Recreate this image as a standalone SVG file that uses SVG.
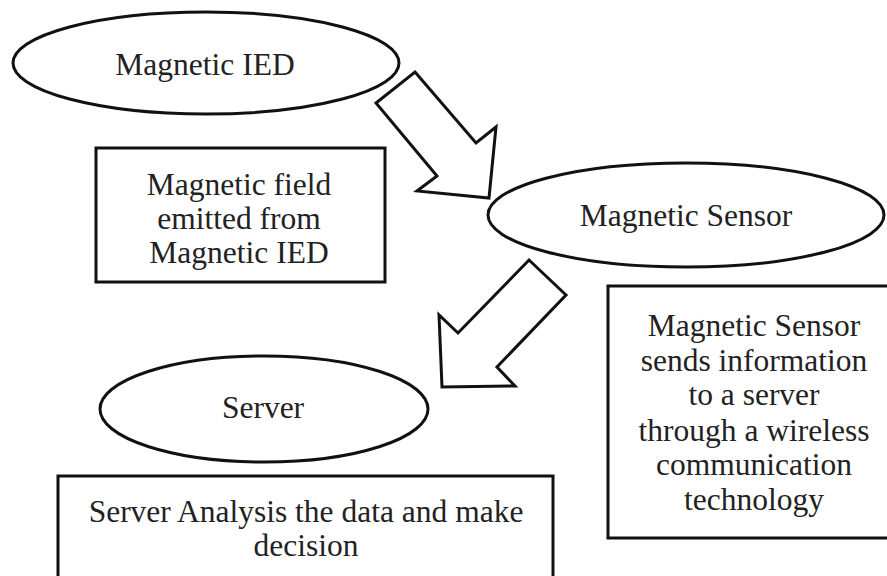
<svg xmlns="http://www.w3.org/2000/svg" width="887" height="576" viewBox="0 0 887 576">
  <style>
    .shape { fill: #ffffff; stroke: #111111; stroke-width: 3; }
    .arrow { fill: #ffffff; stroke: #111111; stroke-width: 3; stroke-linejoin: miter; }
    .label { font-family: 'Liberation Serif', 'DejaVu Serif', serif; font-size: 31.5px; fill: #222222; text-anchor: middle; }
  </style>
  <rect width="887" height="576" fill="#ffffff"/>

  <!-- Block arrows linking the stages -->
  <g id="connectors">
    <polygon class="arrow" points="415,72 476,143 496,127 489,198 417,191 437,176 376,103"/>
    <polygon class="arrow" points="529,260 566,295 497,367 515,386 442,387 439,315 458,333"/>
  </g>

  <g id="magnetic-ied">
    <ellipse class="shape" cx="206" cy="63" rx="193" ry="51"/>
    <text class="label" x="205" y="75">Magnetic IED</text>
  </g>

  <g id="field-note">
    <rect class="shape" x="96" y="148" width="289" height="134"/>
    <text class="label" x="239" y="195">Magnetic field</text>
    <text class="label" x="239" y="229">emitted from</text>
    <text class="label" x="239" y="263">Magnetic IED</text>
  </g>

  <g id="magnetic-sensor">
    <ellipse class="shape" cx="686" cy="215" rx="198" ry="52"/>
    <text class="label" x="686" y="226">Magnetic Sensor</text>
  </g>

  <g id="sensor-note">
    <rect class="shape" x="608" y="286" width="290" height="252"/>
    <text class="label" x="754" y="336">Magnetic Sensor</text>
    <text class="label" x="754" y="371">sends information</text>
    <text class="label" x="754" y="405">to a server</text>
    <text class="label" x="754" y="441">through a wireless</text>
    <text class="label" x="754" y="475">communication</text>
    <text class="label" x="754" y="510">technology</text>
  </g>

  <g id="server">
    <ellipse class="shape" cx="264" cy="409" rx="164" ry="53"/>
    <text class="label" x="263" y="418">Server</text>
  </g>

  <g id="server-note">
    <rect class="shape" x="58" y="476" width="495" height="110"/>
    <text class="label" x="306" y="522">Server Analysis the data and make</text>
    <text class="label" x="306" y="556">decision</text>
  </g>
</svg>
